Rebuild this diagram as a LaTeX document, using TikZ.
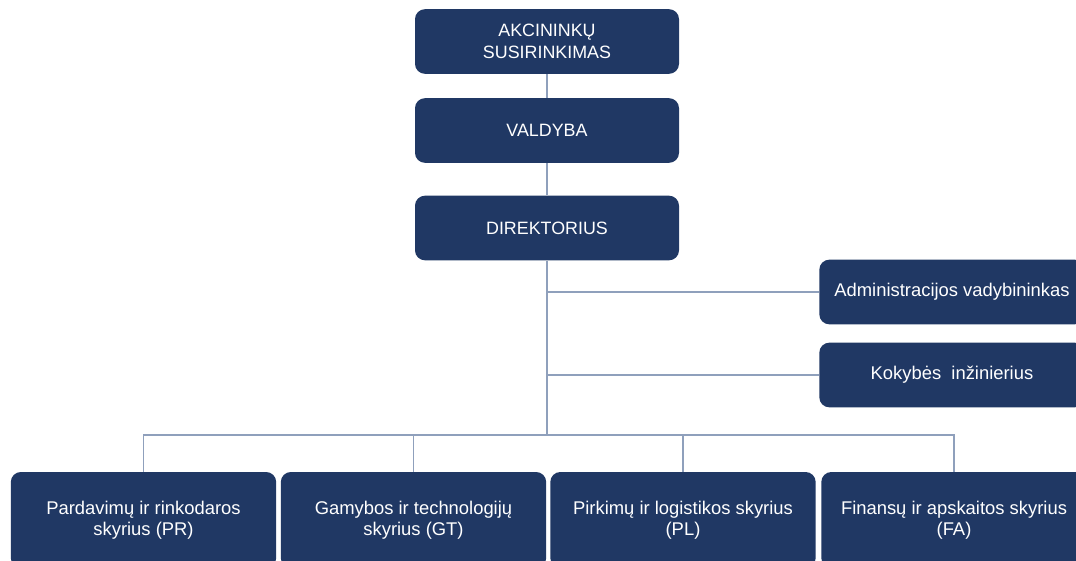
\documentclass[tikz,border=0pt]{standalone}
\usepackage{fontspec}
\setmainfont{Liberation Sans}
\definecolor{navy}{HTML}{203864}
\definecolor{conn}{HTML}{8FA0BC}
\begin{document}
\begin{tikzpicture}[x=0.75pt,y=-0.75pt,
 box/.style={fill=navy, rounded corners=7.5pt, text=white, minimum width=198pt, minimum height=48.5pt, align=center, font=\fontsize{13.4}{16}\selectfont, inner sep=0pt, anchor=center},
 smallbox/.style={box, minimum width=199pt, font=\fontsize{13.8}{16}\selectfont},
 bigbox/.style={smallbox, minimum height=72pt},
 link/.style={draw=conn, line width=0.9pt}]
\useasboundingbox (0,0) rectangle (1076,561);
\begin{scope}
\clip (0,0) rectangle (1076,561);
\node[box] (as) at (547,41.5) {AKCININKŲ\\SUSIRINKIMAS};
\node[box] (val) at (547,130.5) {VALDYBA};
\node[box] (dir) at (547,228) {DIREKTORIUS};
\node[smallbox] (adm) at (952,292) {Administracijos vadybininkas};
\node[smallbox] (kok) at (952,375) {Kokybės\ \ inžinierius};
\node[bigbox] (pr) at (143.5,520) {Pardavimų ir rinkodaros\\skyrius (PR)};
\node[bigbox] (gt) at (413.5,520) {Gamybos ir technologijų\\skyrius (GT)};
\node[bigbox] (pl) at (683,520) {Pirkimų ir logistikos skyrius\\(PL)};
\node[bigbox] (fa) at (954,520) {Finansų ir apskaitos skyrius\\(FA)};
\end{scope}
\coordinate (bus) at (547,435);
\draw[link] (as.south) -- (val.north);
\draw[link] (val.south) -- (dir.north);
\draw[link] (dir.south) -- (bus);
\draw[link] (adm.west) -- (adm.west -| dir.south);
\draw[link] (kok.west) -- (kok.west -| dir.south);
\draw[link] (pr.north) |- (bus);
\draw[link] (gt.north) |- (bus);
\draw[link] (pl.north) |- (bus);
\draw[link] (fa.north) |- (bus);
\end{tikzpicture}
\end{document}
